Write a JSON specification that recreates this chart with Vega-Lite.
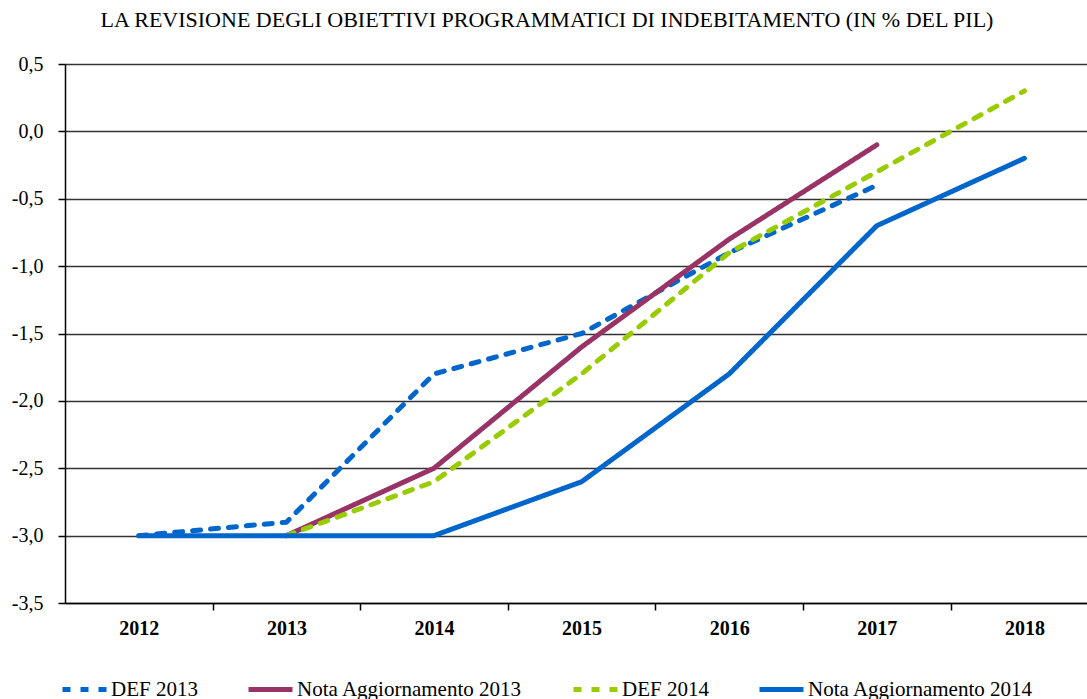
{
  "$schema": "https://vega.github.io/schema/vega-lite/v6.json",
  "autosize": {"type": "none"},
  "width": 1022,
  "height": 539,
  "padding": {"left": 65, "top": 64, "right": 0, "bottom": 96},
  "background": "white",
  "title": {
    "text": "LA REVISIONE DEGLI OBIETTIVI PROGRAMMATICI DI INDEBITAMENTO (IN % DEL PIL)",
    "font": "Times New Roman, Liberation Serif, DejaVu Serif, serif",
    "fontSize": 22,
    "fontWeight": "normal",
    "color": "black",
    "anchor": "middle",
    "frame": "group",
    "dx": -29,
    "offset": 22
  },
  "config": {
    "font": "Times New Roman, Liberation Serif, DejaVu Serif, serif",
    "view": {"stroke": null},
    "axis": {"labelColor": "black", "domainColor": "black", "tickColor": "black"}
  },
  "data": {
    "values": [
      {"serie": "DEF 2013", "anno": 2012, "valore": -3.0},
      {"serie": "DEF 2013", "anno": 2013, "valore": -2.9},
      {"serie": "DEF 2013", "anno": 2014, "valore": -1.8},
      {"serie": "DEF 2013", "anno": 2015, "valore": -1.5},
      {"serie": "DEF 2013", "anno": 2016, "valore": -0.9},
      {"serie": "DEF 2013", "anno": 2017, "valore": -0.4},
      {"serie": "Nota Aggiornamento 2013", "anno": 2013, "valore": -3.0},
      {"serie": "Nota Aggiornamento 2013", "anno": 2014, "valore": -2.5},
      {"serie": "Nota Aggiornamento 2013", "anno": 2015, "valore": -1.6},
      {"serie": "Nota Aggiornamento 2013", "anno": 2016, "valore": -0.8},
      {"serie": "Nota Aggiornamento 2013", "anno": 2017, "valore": -0.1},
      {"serie": "DEF 2014", "anno": 2013, "valore": -3.0},
      {"serie": "DEF 2014", "anno": 2014, "valore": -2.6},
      {"serie": "DEF 2014", "anno": 2015, "valore": -1.8},
      {"serie": "DEF 2014", "anno": 2016, "valore": -0.9},
      {"serie": "DEF 2014", "anno": 2017, "valore": -0.3},
      {"serie": "DEF 2014", "anno": 2018, "valore": 0.3},
      {"serie": "Nota Aggiornamento 2014", "anno": 2012, "valore": -3.0},
      {"serie": "Nota Aggiornamento 2014", "anno": 2013, "valore": -3.0},
      {"serie": "Nota Aggiornamento 2014", "anno": 2014, "valore": -3.0},
      {"serie": "Nota Aggiornamento 2014", "anno": 2015, "valore": -2.6},
      {"serie": "Nota Aggiornamento 2014", "anno": 2016, "valore": -1.8},
      {"serie": "Nota Aggiornamento 2014", "anno": 2017, "valore": -0.7},
      {"serie": "Nota Aggiornamento 2014", "anno": 2018, "valore": -0.2}
    ]
  },
  "mark": {"type": "line", "strokeWidth": 5, "strokeCap": "round", "strokeJoin": "round"},
  "encoding": {
    "x": {
      "field": "anno",
      "type": "quantitative",
      "scale": {"domain": [2011.5, 2018.424], "nice": false, "zero": false},
      "axis": {
        "title": null,
        "grid": false,
        "values": [2012, 2012.5, 2013, 2013.5, 2014, 2014.5, 2015, 2015.5, 2016, 2016.5, 2017, 2017.5, 2018],
        "labelExpr": "datum.value % 1 === 0 ? format(datum.value, 'd') : ''",
        "labelFont": "Times New Roman, Liberation Serif, DejaVu Serif, serif",
        "labelFontSize": 20,
        "labelFontWeight": "bold",
        "labelPadding": 8,
        "tickSize": 7,
        "tickWidth": 1.5,
        "tickOpacity": {"condition": {"test": "datum.value % 1 === 0", "value": 0}, "value": 1},
        "domainWidth": 1.5,
        "labelFlush": false,
        "labelOverlap": false
      }
    },
    "y": {
      "field": "valore",
      "type": "quantitative",
      "scale": {"domain": [-3.5, 0.5], "nice": false, "zero": false},
      "axis": {
        "title": null,
        "values": [-3.5, -3.0, -2.5, -2.0, -1.5, -1.0, -0.5, 0.0, 0.5],
        "labelExpr": "replace(replace(format(datum.value, '.1f'), '.', ','), '−', '-')",
        "labelFont": "Times New Roman, Liberation Serif, DejaVu Serif, serif",
        "labelFontSize": 20,
        "labelPadding": 15,
        "tickSize": 7,
        "tickWidth": 1.5,
        "domainWidth": 1.5,
        "grid": true,
        "gridColor": "#333333",
        "gridWidth": 1.4,
        "labelFlush": false,
        "labelOverlap": false
      }
    },
    "color": {
      "field": "serie",
      "type": "nominal",
      "sort": null,
      "scale": {
        "domain": ["DEF 2013", "Nota Aggiornamento 2013", "DEF 2014", "Nota Aggiornamento 2014"],
        "range": ["#0066CC", "#993366", "#99CC00", "#0066CC"]
      },
      "legend": {
        "title": null,
        "orient": "none",
        "legendX": -5,
        "legendY": 601,
        "direction": "horizontal",
        "columns": 4,
        "gridAlign": "none",
        "columnPadding": 40,
        "padding": 0,
        "symbolType": "stroke",
        "symbolSize": 1936,
        "symbolStrokeWidth": 5,
        "labelFont": "Times New Roman, Liberation Serif, DejaVu Serif, serif",
        "labelFontSize": 21,
        "labelColor": "black",
        "labelOffset": 2,
        "labelLimit": 400
      }
    },
    "strokeDash": {
      "field": "serie",
      "type": "nominal",
      "sort": null,
      "scale": {
        "domain": ["DEF 2013", "Nota Aggiornamento 2013", "DEF 2014", "Nota Aggiornamento 2014"],
        "range": [[8, 10], [1, 0], [8, 10], [1, 0]]
      },
      "legend": null
    }
  }
}
